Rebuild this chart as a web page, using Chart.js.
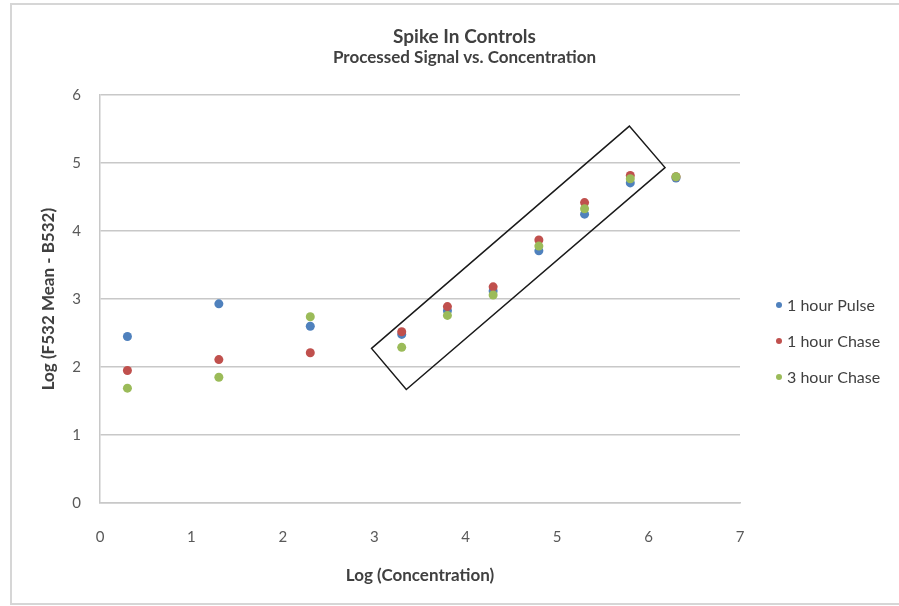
<!DOCTYPE html>
<html>
<head>
<meta charset="utf-8">
<title>Spike In Controls</title>
<script src="https://cdn.jsdelivr.net/npm/chart.js@4.4.1/dist/chart.umd.min.js"></script>
<style>
  html, body { margin: 0; padding: 0; background: #fff; }
  #wrap { width: 899px; height: 606px; }
</style>
</head>
<body>
<div id="wrap"><canvas id="chart" width="899" height="606"></canvas></div>
<script>
// log concentration (x) for each spike-in
const logConc = [0.3, 1.3, 2.3, 3.3, 3.8, 4.3, 4.8, 5.3, 5.8, 6.3];

// log (F532 Mean - B532) per series
const pulse1h = [2.45, 2.93, 2.60, 2.48, 2.83, 3.12, 3.71, 4.25, 4.71, 4.78];
const chase1h = [1.95, 2.11, 2.21, 2.52, 2.89, 3.18, 3.87, 4.42, 4.82, 4.80];
const chase3h = [1.69, 1.85, 2.74, 2.29, 2.76, 3.06, 3.78, 4.33, 4.77, 4.80];

const seriesNames = ['1 hour Pulse', '1 hour Chase', '3 hour Chase'];
const seriesColors = ['#4f81bd', '#c0504d', '#9bbb59'];

// corners of the highlight box, in data units (x, y)
const boxX = [2.97, 5.79, 6.18, 3.35];
const boxY = [2.275, 5.545, 4.935, 1.67];

const FONT = 'Lato, "Open Sans", sans-serif';

function toPoints(ys) {
  return logConc.map((x, i) => ({ x: x, y: ys[i] }));
}

// outer frame around the whole chart
const framePlugin = {
  id: 'frame',
  beforeDraw(chart) {
    const ctx = chart.ctx;
    ctx.save();
    ctx.strokeStyle = '#d6d6d6';
    ctx.lineWidth = 2;
    ctx.strokeRect(11, 4, chart.width + 10, 600);
    ctx.restore();
  }
};

// the rotated rectangle around the linear range
const boxPlugin = {
  id: 'highlightBox',
  afterDatasetsDraw(chart) {
    const { ctx, scales } = chart;
    ctx.save();
    ctx.beginPath();
    boxX.forEach((x, i) => {
      const px = scales.x.getPixelForValue(x);
      const py = scales.y.getPixelForValue(boxY[i]);
      if (i === 0) ctx.moveTo(px, py); else ctx.lineTo(px, py);
    });
    ctx.closePath();
    ctx.strokeStyle = '#1a1a1a';
    ctx.lineWidth = 1.5;
    ctx.stroke();
    ctx.restore();
  }
};

// legend on the right, drawn from the datasets
const legendPlugin = {
  id: 'sideLegend',
  afterDraw(chart) {
    const ctx = chart.ctx;
    const x = chart.chartArea.right + 39;
    const rows = [305, 341, 377];
    ctx.save();
    ctx.font = '16px ' + FONT;
    ctx.textBaseline = 'middle';
    chart.data.datasets.forEach((ds, i) => {
      ctx.beginPath();
      ctx.arc(x, rows[i], 3, 0, Math.PI * 2);
      ctx.fillStyle = ds.backgroundColor;
      ctx.fill();
      ctx.fillStyle = '#404040';
      ctx.fillText(ds.label, x + 8, rows[i] + 1);
    });
    ctx.restore();
  }
};

new Chart(document.getElementById('chart'), {
  type: 'scatter',
  data: {
    datasets: [
      { label: seriesNames[0], data: toPoints(pulse1h), order: 2 },
      { label: seriesNames[1], data: toPoints(chase1h), order: 1 },
      { label: seriesNames[2], data: toPoints(chase3h), order: 0 }
    ].map((ds, i) => Object.assign(ds, {
      backgroundColor: seriesColors[i],
      borderColor: seriesColors[i],
      borderWidth: 0,
      pointRadius: 4.5
    }))
  },
  options: {
    responsive: false,
    devicePixelRatio: 1,
    animation: false,
    layout: { padding: { left: 30, right: 0, top: 0, bottom: 0 } },
    plugins: {
      legend: { display: false },
      tooltip: { enabled: false },
      title: {
        display: true,
        text: 'Spike In Controls',
        color: '#404040',
        font: { family: FONT, size: 19, weight: 'bold' },
        padding: { top: 25, bottom: 0 }
      },
      subtitle: {
        display: true,
        text: 'Processed Signal vs. Concentration',
        color: '#404040',
        font: { family: FONT, size: 17, weight: 'bold' },
        padding: { top: 0, bottom: 27 }
      }
    },
    scales: {
      x: {
        type: 'linear',
        min: 0,
        max: 7,
        afterFit(scale) { scale.height = 103; },
        ticks: {
          stepSize: 1,
          color: '#595959',
          font: { family: FONT, size: 15 },
          padding: 25
        },
        grid: { display: false, drawTicks: false, tickLength: 0 },
        border: { display: true, color: '#c8c8c8', width: 1.5 },
        title: {
          display: true,
          text: 'Log (Concentration)',
          color: '#404040',
          font: { family: FONT, size: 17, weight: 'bold' },
          padding: { top: 0, bottom: 20 }
        }
      },
      y: {
        type: 'linear',
        min: 0,
        max: 6,
        afterFit(scale) { scale.width = 70; },
        ticks: {
          stepSize: 1,
          color: '#595959',
          font: { family: FONT, size: 15 },
          padding: 19
        },
        grid: { color: '#c8c8c8', lineWidth: 1.5, drawTicks: false, tickLength: 0 },
        border: { display: true, color: '#c8c8c8', width: 1.5 },
        title: {
          display: true,
          text: 'Log (F532 Mean - B532)',
          color: '#404040',
          font: { family: FONT, size: 17, weight: 'bold' },
          padding: { top: 8, bottom: 0 }
        }
      },
      // empty axis that keeps room for the legend on the right
      legendSpace: {
        type: 'linear',
        position: 'right',
        display: true,
        afterFit(scale) { scale.width = 159; },
        ticks: { display: false },
        grid: { display: false, drawTicks: false },
        border: { display: false }
      }
    }
  },
  plugins: [framePlugin, boxPlugin, legendPlugin]
});
</script>
</body>
</html>
